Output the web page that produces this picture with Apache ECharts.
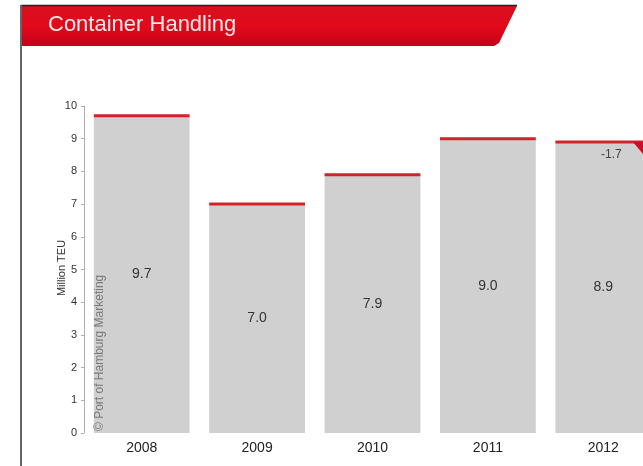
<!DOCTYPE html>
<html>
<head>
<meta charset="utf-8">
<script src="https://cdn.jsdelivr.net/npm/echarts@6/dist/echarts.min.js"></script>
<style>html,body{margin:0;padding:0;background:#fff;}#c{width:643px;height:466px;}</style>
</head>
<body>
<div id="c"></div>
<script>
const years = ['2008', '2009', '2010', '2011', '2012'];
const teu = [9.7, 7.0, 7.9, 9.0, 8.9];
const changeLabels = ['', '', '', '', '-1.7'];
const yTicks = [0, 1, 2, 3, 4, 5, 6, 7, 8, 9, 10];
const yAxisName = 'Million TEU';

const chart = echarts.init(document.getElementById('c'), null, {renderer: 'canvas'});
const FONT = '"Liberation Sans", Arial, sans-serif';

chart.setOption({
  animation: false,
  backgroundColor: '#ffffff',
  grid: {left: 84, width: 577, top: 106, bottom: 33, containLabel: false, outerBoundsMode: 'none'},
  xAxis: {
    type: 'category',
    data: years,
    axisLine: {show: false},
    axisTick: {show: false},
    axisLabel: {color: '#222', fontSize: 14, fontFamily: FONT, margin: 8}
  },
  yAxis: {
    type: 'value',
    min: yTicks[0],
    max: yTicks[yTicks.length - 1],
    interval: 1,
    axisLine: {show: true, lineStyle: {color: '#b0b0b0', width: 1}},
    axisTick: {show: true, length: 3, lineStyle: {color: '#b0b0b0'}},
    axisLabel: {color: '#333', fontSize: 11, fontFamily: FONT, margin: 7},
    splitLine: {show: false}
  },
  series: [
    {
      type: 'bar',
      data: teu,
      barWidth: '83%',
      itemStyle: {color: '#d0d0d0'},
      label: {
        show: true,
        position: 'inside',
        color: '#333',
        fontSize: 14,
        fontFamily: FONT,
        formatter: p => p.value.toFixed(1)
      },
      z: 2
    },
    {
      type: 'custom',
      data: teu.map((v, i) => [i, v]),
      z: 3,
      renderItem: function (params, api) {
        const i = api.value(0);
        const v = api.value(1);
        const top = api.coord([i, v]);
        const w = api.size([1, 0])[0] * 0.83;
        const x0 = top[0] - w / 2;
        const children = [{
          type: 'rect',
          shape: {x: x0, y: top[1] - 1.5, width: w, height: 3},
          style: {fill: '#d2232a'}
        }];
        const lbl = changeLabels[i];
        if (lbl) {
          const cw = chart.getWidth();
          children.push({
            type: 'polygon',
            shape: {points: [[cw - 10, top[1]], [cw, top[1]], [cw, top[1] + 12]]},
            style: {fill: '#c8102e'}
          });
          children.push({
            type: 'text',
            style: {
              text: lbl, x: top[0] + 8, y: top[1] + 13,
              fill: '#444', font: '12px ' + FONT,
              textAlign: 'center', textVerticalAlign: 'middle'
            }
          });
        }
        return {type: 'group', children: children};
      }
    }
  ],
  graphic: [
    {
      type: 'polygon',
      shape: {points: [[22, 6], [517, 6], [499, 43], [494, 46], [22, 46]]},
      style: {
        fill: new echarts.graphic.LinearGradient(0, 0, 0, 1, [
          {offset: 0, color: '#d6101e'},
          {offset: 0.5, color: '#e3091b'},
          {offset: 1, color: '#c40018'}
        ])
      },
      z: 10
    },
    {
      type: 'line',
      shape: {x1: 21, y1: 5.5, x2: 517, y2: 5.5},
      style: {stroke: '#222', lineWidth: 1.5},
      z: 11
    },
    {
      type: 'line',
      shape: {x1: 21, y1: 5, x2: 21, y2: 466},
      style: {stroke: '#666', lineWidth: 2},
      z: 11
    },
    {
      type: 'text',
      left: 48,
      top: 14,
      style: {text: 'Container Handling', fill: '#fbe9e9', font: '22px ' + FONT},
      z: 12
    },
    {
      type: 'text',
      x: 62,
      y: 268,
      rotation: Math.PI / 2,
      style: {
        text: yAxisName, fill: '#333', font: '11px ' + FONT,
        textAlign: 'center', textVerticalAlign: 'middle'
      },
      z: 12
    },
    {
      type: 'text',
      x: 100,
      y: 431,
      rotation: Math.PI / 2,
      style: {
        text: '© Port of Hamburg Marketing', fill: '#7a7a7a', font: '12px ' + FONT,
        textAlign: 'left', textVerticalAlign: 'middle'
      },
      z: 12
    }
  ]
});
</script>
</body>
</html>
